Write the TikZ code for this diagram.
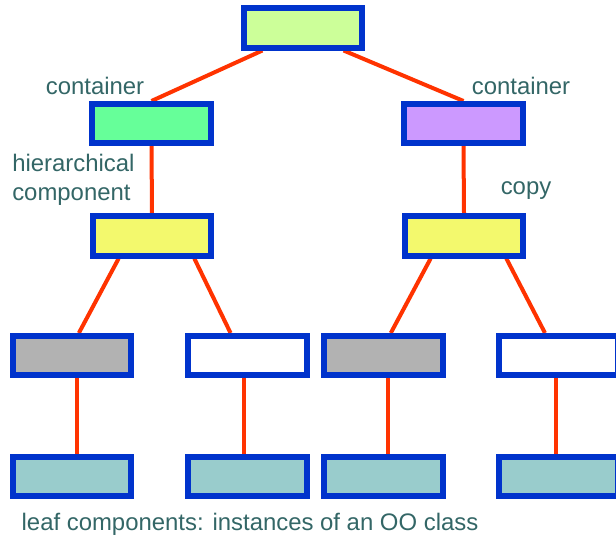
\documentclass[tikz,border=0pt]{standalone}
\usepackage{fontspec}
\setmainfont{Liberation Sans}
\usepackage{tikz}
\usetikzlibrary{positioning, backgrounds, calc}
\definecolor{edgeblue}{HTML}{0033CC}
\definecolor{linkred}{HTML}{FF3300}
\definecolor{labelgray}{HTML}{336666}
\definecolor{rootfill}{HTML}{CCFF99}
\definecolor{contfill}{HTML}{66FF99}
\definecolor{copyfill}{HTML}{CC99FF}
\definecolor{hierfill}{HTML}{F3F96D}
\definecolor{leaffill}{HTML}{99CCCC}
\definecolor{grayfill}{HTML}{B2B2B2}
\tikzset{
  comp/.style={rectangle, draw=edgeblue, line width=0.15cm, minimum width=2.95cm,
    minimum height=0.975cm, inner sep=0pt},
  link/.style={draw=linkred, line width=0.1cm},
  lbl/.style={text=labelgray, font=\fontsize{17}{20.5}\selectfont, inner sep=0pt, align=left},
}

\begin{document}
\begin{tikzpicture}[x=0.025cm, y=-0.025cm]
  \useasboundingbox (0,0) rectangle (616,538);
  \clip (0,0) rectangle (616,538);
  % root and containers
  \node[comp, fill=rootfill] (root) at (303,28) {};
  \node[comp, fill=contfill] (lcont) at (151.5,123.5) {};
  \node[comp, fill=copyfill] (rcont) at (463.5,123.5) {};

  % hierarchical components
  \node[comp, fill=hierfill] (lhier) at (152,236) {};
  \node[comp, fill=hierfill] (rhier) at (464,236) {};

  % middle row
  \node[comp, fill=grayfill] (g1) at (72,355.5) {};
  \node[comp, fill=white] (w1) at (247.5,355.5) {};
  \node[comp, fill=grayfill] (g2) at (383.5,355.5) {};
  \node[comp, fill=white] (w2) at (558.5,355.5) {};

  % leaf components
  \node[comp, fill=leaffill] (l1) at (72,476.5) {};
  \node[comp, fill=leaffill] (l2) at (247.5,476.5) {};
  \node[comp, fill=leaffill] (l3) at (383.5,476.5) {};
  \node[comp, fill=leaffill] (l4) at (558.5,476.5) {};

  % labels
  \node[lbl] (tcl) at (95,86) {container};
  \node[lbl] (tcr) at (521,86) {container};
  \node[lbl, anchor=west] (thier) at (12,180) {hierarchical\\component};
  \node[lbl] (tcopy) at (526,191) {copy};
  \node[lbl] (tleaf) at (250,524) {leaf components: instances of an OO class};

  \begin{scope}[on background layer]
    \draw[link] (root.209) -- (lcont.north);
    \draw[link] (root.331) -- (rcont.north);
    \draw[link] (lcont.south) -- (lhier.north);
    \draw[link] (rcont.south) -- (rhier.north);
    \draw[link] (lhier.214) -- (g1.73);
    \draw[link] (lhier.332) -- (w1.127);
    \draw[link] (rhier.214) -- (g2.72);
    \draw[link] (rhier.332) -- (w2.121);
    \draw[link] ($(g1.south)+(5,0)$) -- ($(l1.north)+(5,0)$);
    \draw[link] ($(w1.south)+(-4,0)$) -- ($(l2.north)+(-4,0)$);
    \draw[link] ($(g2.south)+(4,0)$) -- ($(l3.north)+(4,0)$);
    \draw[link] ($(w2.south)+(-3,0)$) -- ($(l4.north)+(-3,0)$);
  \end{scope}
\end{tikzpicture}
\end{document}
